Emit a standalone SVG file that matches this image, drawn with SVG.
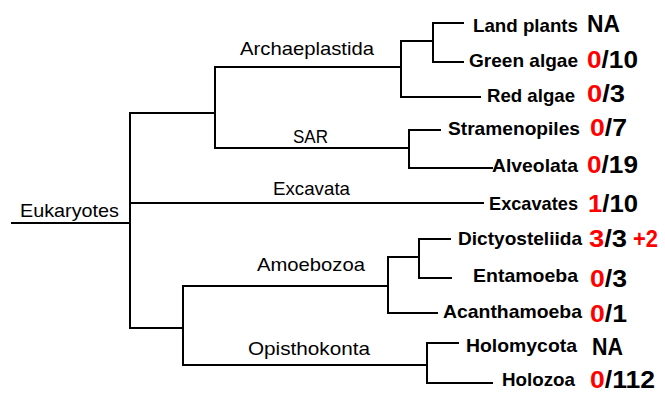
<svg xmlns="http://www.w3.org/2000/svg" width="665" height="393" viewBox="0 0 665 393">
<style>
.c{fill:none;stroke:#000;stroke-width:2;stroke-linecap:square}
.lbl{font-family:"Liberation Sans",Arial,sans-serif;font-size:18.5px;fill:#000}
.leaf{font-family:"Liberation Sans",Arial,sans-serif;font-size:18.5px;font-weight:bold;fill:#000}
.sc{font-family:"Liberation Sans",Arial,sans-serif;font-size:23px;font-weight:bold;fill:#000}
.r{fill:#ff0000}
</style>
<rect width="665" height="393" fill="#fff"/>
<g id="connectors">
<path class="c" d="M12 223H130M130 113V328M130 113H215M215 67V148M215 67H401M215 148H409"/>
<path class="c" d="M401 41V97M401 41H433M433 23V62M433 23H463M433 62H463M401 97H480"/>
<path class="c" d="M409 130V168M409 130H440M409 168H492"/>
<path class="c" d="M130 203H483"/>
<path class="c" d="M130 328H183M183 286V365M183 286H388M183 365H427"/>
<path class="c" d="M388 257V313M388 257H419M419 239V278M419 239H450M419 278H451M388 313H437"/>
<path class="c" d="M427 343V383M427 343H458M427 383H492"/>
</g>
<g id="eukaryotes"><text class="lbl" x="20" y="217" textLength="99" lengthAdjust="spacingAndGlyphs">Eukaryotes</text></g>
<g id="archaeplastida"><text class="lbl" x="240" y="55" textLength="134" lengthAdjust="spacingAndGlyphs">Archaeplastida</text></g>
<g id="sar"><text class="lbl" x="293" y="143" textLength="35" lengthAdjust="spacingAndGlyphs">SAR</text></g>
<g id="excavata"><text class="lbl" x="273" y="195" textLength="77" lengthAdjust="spacingAndGlyphs">Excavata</text></g>
<g id="amoebozoa"><text class="lbl" x="257" y="271" textLength="108" lengthAdjust="spacingAndGlyphs">Amoebozoa</text></g>
<g id="opisthokonta"><text class="lbl" x="248" y="355" textLength="122" lengthAdjust="spacingAndGlyphs">Opisthokonta</text></g>

<g id="land-plants"><text class="leaf" x="473" y="32" textLength="105" lengthAdjust="spacingAndGlyphs">Land plants</text><text class="sc" x="587" y="32" textLength="33" lengthAdjust="spacingAndGlyphs">NA</text></g>
<g id="green-algae"><text class="leaf" x="469" y="67" textLength="109" lengthAdjust="spacingAndGlyphs">Green algae</text><text class="sc" x="587" y="68" textLength="51" lengthAdjust="spacingAndGlyphs"><tspan class="r">0</tspan>/10</text></g>
<g id="red-algae"><text class="leaf" x="487" y="102" textLength="88" lengthAdjust="spacingAndGlyphs">Red algae</text><text class="sc" x="587" y="102" textLength="38" lengthAdjust="spacingAndGlyphs"><tspan class="r">0</tspan>/3</text></g>
<g id="stramenopiles"><text class="leaf" x="448" y="135" textLength="132" lengthAdjust="spacingAndGlyphs">Stramenopiles</text><text class="sc" x="590" y="136" textLength="37" lengthAdjust="spacingAndGlyphs"><tspan class="r">0</tspan>/7</text></g>
<g id="alveolata"><text class="leaf" x="492" y="172" textLength="86" lengthAdjust="spacingAndGlyphs">Alveolata</text><text class="sc" x="587" y="173" textLength="51" lengthAdjust="spacingAndGlyphs"><tspan class="r">0</tspan>/19</text></g>
<g id="excavates"><text class="leaf" x="489" y="210" textLength="89" lengthAdjust="spacingAndGlyphs">Excavates</text><text class="sc" x="588" y="212" textLength="50" lengthAdjust="spacingAndGlyphs"><tspan class="r">1</tspan>/10</text></g>
<g id="dictyosteliida"><text class="leaf" x="458" y="245" textLength="124" lengthAdjust="spacingAndGlyphs">Dictyosteliida</text><text class="sc" x="589" y="247" textLength="38" lengthAdjust="spacingAndGlyphs"><tspan class="r">3</tspan>/3</text><text class="sc r" x="633" y="247" textLength="25" lengthAdjust="spacingAndGlyphs">+2</text></g>
<g id="entamoeba"><text class="leaf" x="473" y="282" textLength="105" lengthAdjust="spacingAndGlyphs">Entamoeba</text><text class="sc" x="590" y="287" textLength="37" lengthAdjust="spacingAndGlyphs"><tspan class="r">0</tspan>/3</text></g>
<g id="acanthamoeba"><text class="leaf" x="443" y="318" textLength="139" lengthAdjust="spacingAndGlyphs">Acanthamoeba</text><text class="sc" x="590" y="322" textLength="37" lengthAdjust="spacingAndGlyphs"><tspan class="r">0</tspan>/1</text></g>
<g id="holomycota"><text class="leaf" x="466" y="352" textLength="111" lengthAdjust="spacingAndGlyphs">Holomycota</text><text class="sc" x="592" y="355" textLength="31" lengthAdjust="spacingAndGlyphs">NA</text></g>
<g id="holozoa"><text class="leaf" x="502" y="386" textLength="73" lengthAdjust="spacingAndGlyphs">Holozoa</text><text class="sc" x="590" y="388" textLength="65" lengthAdjust="spacingAndGlyphs"><tspan class="r">0</tspan>/112</text></g>
</svg>
